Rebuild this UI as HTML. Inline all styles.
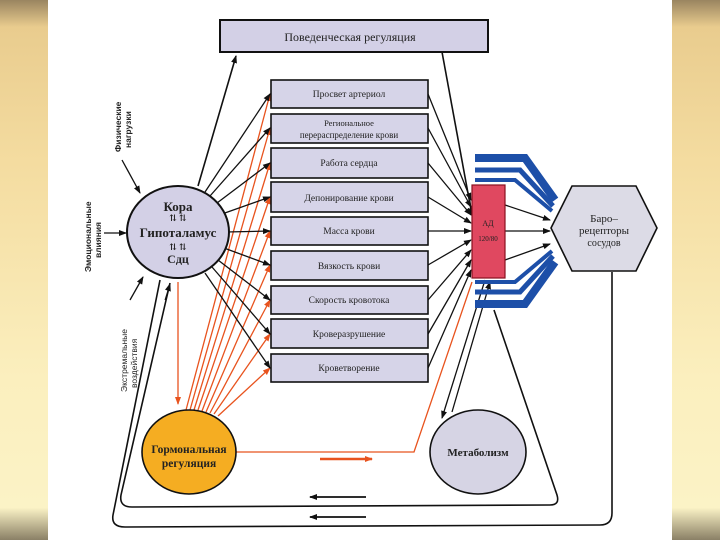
<!DOCTYPE html>
<html><head><meta charset="utf-8"><style>
html,body{margin:0;padding:0;width:720px;height:540px;overflow:hidden;background:#fff}
svg{display:block}
text{font-family:"Liberation Serif","DejaVu Serif",serif;fill:#222}
</style></head><body>
<svg width="720" height="540" viewBox="0 0 720 540" xmlns="http://www.w3.org/2000/svg">
<defs>
<linearGradient id="side" x1="0" y1="0" x2="0" y2="1">
<stop offset="0" stop-color="#9a8560"/><stop offset="0.05" stop-color="#e9cc8e"/>
<stop offset="0.3" stop-color="#f4dca0"/><stop offset="0.7" stop-color="#fbefbe"/>
<stop offset="0.94" stop-color="#fbf3c6"/><stop offset="1" stop-color="#8a8066"/></linearGradient>
<marker id="ab" markerWidth="8" markerHeight="8" refX="7" refY="4" orient="auto" markerUnits="userSpaceOnUse"><path d="M0,1 L8,4 L0,7 z" fill="#111"/></marker>
<marker id="ao" markerWidth="8" markerHeight="8" refX="7" refY="4" orient="auto" markerUnits="userSpaceOnUse"><path d="M0,1 L8,4 L0,7 z" fill="#e8531e"/></marker>
</defs>
<rect x="0" y="0" width="48" height="540" fill="url(#side)"/>
<rect x="672" y="0" width="48" height="540" fill="url(#side)"/>

<!-- outer loops -->
<g fill="none" stroke="#111" stroke-width="1.6">
<path d="M160,280 L113,515 Q111,527 125,527 L600,525 Q612,525 612,513 L612,272"/>
<path d="M170,283 L121,495 Q119,507 132,507 L550,505 Q560,505 557,495 L494,310"/>
<line x1="442" y1="52" x2="472" y2="215" marker-end="url(#ab)"/>
<line x1="198" y1="186" x2="236" y2="56" marker-end="url(#ab)"/>
</g>
<path d="M165,300 L170,284" stroke="#111" marker-end="url(#ab)"/>

<!-- top box -->
<rect x="220" y="20" width="268" height="32" fill="#d3d0e6" stroke="#111" stroke-width="2"/>
<text x="350" y="41" font-size="12" text-anchor="middle">Поведенческая регуляция</text>

<!-- orange fan -->
<g stroke="#e8531e" stroke-width="1.3" fill="none">
<line x1="178" y1="282" x2="178" y2="404" marker-end="url(#ao)"/>
<line x1="186" y1="410" x2="270" y2="94" marker-end="url(#ao)"/>
<line x1="190" y1="410" x2="270" y2="128" marker-end="url(#ao)"/>
<line x1="194" y1="410" x2="270" y2="163" marker-end="url(#ao)"/>
<line x1="198" y1="410" x2="270" y2="197" marker-end="url(#ao)"/>
<line x1="202" y1="411" x2="270" y2="231" marker-end="url(#ao)"/>
<line x1="206" y1="412" x2="270" y2="265" marker-end="url(#ao)"/>
<line x1="210" y1="413" x2="270" y2="300" marker-end="url(#ao)"/>
<line x1="214" y1="414" x2="270" y2="334" marker-end="url(#ao)"/>
<line x1="218" y1="416" x2="270" y2="368" marker-end="url(#ao)"/>
<polyline points="236,452 414,452 472,282"/>
<line x1="320" y1="459" x2="372" y2="459" stroke-width="2.5" marker-end="url(#ao)"/>
</g>

<!-- black fan -->
<g stroke="#111" stroke-width="1.3" fill="none">
<line x1="205" y1="192" x2="270" y2="94" marker-end="url(#ab)"/>
<line x1="210" y1="196" x2="270" y2="128" marker-end="url(#ab)"/>
<line x1="217" y1="203" x2="270" y2="163" marker-end="url(#ab)"/>
<line x1="222" y1="214" x2="270" y2="197" marker-end="url(#ab)"/>
<line x1="226" y1="232" x2="270" y2="231" marker-end="url(#ab)"/>
<line x1="224" y1="248" x2="270" y2="265" marker-end="url(#ab)"/>
<line x1="218" y1="260" x2="270" y2="300" marker-end="url(#ab)"/>
<line x1="212" y1="267" x2="270" y2="334" marker-end="url(#ab)"/>
<line x1="205" y1="273" x2="270" y2="368" marker-end="url(#ab)"/>
<line x1="428" y1="94" x2="471" y2="200" marker-end="url(#ab)"/>
<line x1="428" y1="128" x2="471" y2="207" marker-end="url(#ab)"/>
<line x1="428" y1="163" x2="471" y2="215" marker-end="url(#ab)"/>
<line x1="428" y1="197" x2="471" y2="223" marker-end="url(#ab)"/>
<line x1="428" y1="231" x2="471" y2="231" marker-end="url(#ab)"/>
<line x1="428" y1="265" x2="471" y2="240" marker-end="url(#ab)"/>
<line x1="428" y1="300" x2="471" y2="250" marker-end="url(#ab)"/>
<line x1="428" y1="334" x2="471" y2="260" marker-end="url(#ab)"/>
<line x1="428" y1="368" x2="471" y2="270" marker-end="url(#ab)"/>
<line x1="505" y1="205" x2="550" y2="220" marker-end="url(#ab)"/>
<line x1="505" y1="231" x2="550" y2="231" marker-end="url(#ab)"/>
<line x1="505" y1="260" x2="550" y2="244" marker-end="url(#ab)"/>
<line x1="485" y1="280" x2="442" y2="418" marker-end="url(#ab)"/>
<line x1="452" y1="412" x2="490" y2="282" marker-end="url(#ab)"/>
<line x1="122" y1="160" x2="140" y2="193" marker-end="url(#ab)"/>
<line x1="104" y1="233" x2="126" y2="233" marker-end="url(#ab)"/>
<line x1="130" y1="300" x2="143" y2="277" marker-end="url(#ab)"/>
<line x1="366" y1="497" x2="310" y2="497" stroke-width="1.8" marker-end="url(#ab)"/>
<line x1="366" y1="517" x2="310" y2="517" stroke-width="1.8" marker-end="url(#ab)"/>
</g>

<!-- blue arrows -->
<g fill="none" stroke-linejoin="miter">
<polyline points="475,158 525,158 555,200" stroke="#1d4fa8" stroke-width="8"/>
<polyline points="475,170 520,170 553,206" stroke="#1d4fa8" stroke-width="5"/>
<polyline points="475,180 515,180 552,211" stroke="#1d4fa8" stroke-width="4"/>
<polyline points="475,304 525,304 555,262" stroke="#1d4fa8" stroke-width="8"/>
<polyline points="475,292 520,292 553,256" stroke="#1d4fa8" stroke-width="5"/>
<polyline points="475,282 515,282 552,251" stroke="#1d4fa8" stroke-width="4"/>
</g>

<!-- boxes -->
<g fill="#d6d4e8" stroke="#111" stroke-width="1.6">
<rect x="271" y="80" width="157" height="28"/>
<rect x="271" y="114" width="157" height="29"/>
<rect x="271" y="148" width="157" height="30"/>
<rect x="271" y="182" width="157" height="30"/>
<rect x="271" y="217" width="157" height="28"/>
<rect x="271" y="251" width="157" height="29"/>
<rect x="271" y="286" width="157" height="28"/>
<rect x="271" y="319" width="157" height="29"/>
<rect x="271" y="354" width="157" height="28"/>
</g>
<g font-size="9.5" text-anchor="middle">
<text x="349" y="97">Просвет артериол</text>
<text x="349" y="126" font-size="8.5">Региональное</text>
<text x="349" y="138" font-size="9">перераспределение  крови</text>
<text x="349" y="166">Работа сердца</text>
<text x="349" y="201">Депонирование крови</text>
<text x="349" y="234">Масса крови</text>
<text x="349" y="269">Вязкость крови</text>
<text x="349" y="303">Скорость кровотока</text>
<text x="349" y="337">Кроверазрушение</text>
<text x="349" y="371">Кроветворение</text>
</g>

<rect x="472" y="185" width="33" height="93" fill="#e04860" stroke="#8a1020" stroke-width="1.2"/>
<text x="488" y="226" font-size="8" text-anchor="middle" fill="#600">АД</text>
<text x="488" y="241" font-size="7" text-anchor="middle" fill="#600">120/80</text>

<polygon points="551,228 572,186 636,186 657,228 636,271 572,271" fill="#dcdbe6" stroke="#111" stroke-width="1.6"/>
<text x="604" y="222" font-size="11" text-anchor="middle">Баро–</text>
<text x="604" y="234" font-size="11" text-anchor="middle">рецепторы</text>
<text x="604" y="246" font-size="10" text-anchor="middle">сосудов</text>

<ellipse cx="178" cy="232" rx="51" ry="46" fill="#d3d0e6" stroke="#111" stroke-width="2"/>
<text x="178" y="211" font-size="13" text-anchor="middle" font-weight="bold">Кора</text>
<text x="178" y="221" font-size="9" text-anchor="middle" font-weight="bold">⇅     ⇅</text>
<text x="178" y="237" font-size="13" text-anchor="middle" font-weight="bold">Гипоталамус</text>
<text x="178" y="250" font-size="9" text-anchor="middle" font-weight="bold">⇅     ⇅</text>
<text x="178" y="263" font-size="12" text-anchor="middle" font-weight="bold">Сдц</text>

<ellipse cx="189" cy="452" rx="47" ry="42" fill="#f5ad22" stroke="#111" stroke-width="1.6"/>
<text x="189" y="453" font-size="11.5" text-anchor="middle" font-weight="bold" fill="#5a1500">Гормональная</text>
<text x="189" y="467" font-size="11.5" text-anchor="middle" font-weight="bold" fill="#5a1500">регуляция</text>

<ellipse cx="478" cy="452" rx="48" ry="42" fill="#d6d4e4" stroke="#111" stroke-width="1.6"/>
<text x="478" y="456" font-size="11" text-anchor="middle" font-weight="bold">Метаболизм</text>

<g font-size="8.5" font-weight="bold">
<text transform="translate(121,152) rotate(-90)" style="font-family:'Liberation Sans',sans-serif">Физические</text>
<text transform="translate(131,148) rotate(-90)" style="font-family:'Liberation Sans',sans-serif">нагрузки</text>
<text transform="translate(91,272) rotate(-90)" style="font-family:'Liberation Sans',sans-serif">Эмоциональные</text>
<text transform="translate(101,258) rotate(-90)" style="font-family:'Liberation Sans',sans-serif">влияния</text>
<text transform="translate(127,392) rotate(-90)" style="font-family:'Liberation Sans',sans-serif;font-weight:normal">Экстремальные</text>
<text transform="translate(137,388) rotate(-90)" style="font-family:'Liberation Sans',sans-serif;font-weight:normal">воздействия</text>
</g>
</svg>
</body></html>
